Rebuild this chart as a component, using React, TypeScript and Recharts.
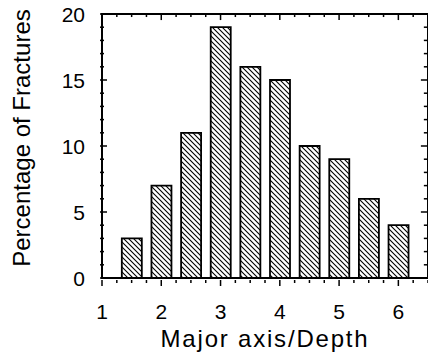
import React from "react";
import { BarChart, Bar, XAxis, YAxis, Label, ReferenceArea, ReferenceLine } from "recharts";

// ─── Data ─────────────────────────────────────────────────────────────────────

const ratios = [1.5, 2, 2.5, 3, 3.5, 4, 4.5, 5, 5.5, 6];
const percents = [3, 7, 11, 19, 16, 15, 10, 9, 6, 4];

const xMajorTicks = [1, 2, 3, 4, 5, 6];
const xTicks = [1, 1.25, 1.5, 1.75, 2, 2.25, 2.5, 2.75, 3, 3.25, 3.5, 3.75, 4, 4.25, 4.5, 4.75, 5, 5.25, 5.5, 5.75, 6, 6.25, 6.5];
const yMajorTicks = [0, 5, 10, 15, 20];
const yTicks = [0, 1, 2, 3, 4, 5, 6, 7, 8, 9, 10, 11, 12, 13, 14, 15, 16, 17, 18, 19, 20];

const data = ratios.map((r, i) => ({ ratio: r, pct: percents[i] }));

const FONT = "'Liberation Sans', Arial, Helvetica, sans-serif";
const INK = "#000";
const noText = () => "";

// ─── Tick renderers (ticks drawn by hand so they can point inward) ────────────

const BottomTick = ({ x, y, payload }: any) => {
  const major = xMajorTicks.includes(payload.value);
  return (
    <g>
      <line x1={x} y1={y} x2={x} y2={y + (major ? 6 : 3)} stroke={INK} strokeWidth={1.5} />
      {major && (
        <text x={x} y={y + 39} textAnchor="middle" fontSize={21} fontFamily={FONT} fill={INK}>
          {payload.value}
        </text>
      )}
    </g>
  );
};

const LeftTick = ({ x, y, payload }: any) => {
  const major = yMajorTicks.includes(payload.value);
  return (
    <g>
      <line x1={x} y1={y} x2={x + (major ? 7 : 4)} y2={y} stroke={INK} strokeWidth={1.5} />
      {major && (
        <text x={x - 15} y={y + 7.5} textAnchor="end" fontSize={21} fontFamily={FONT} fill={INK}>
          {payload.value}
        </text>
      )}
    </g>
  );
};

const YTitle = ({ viewBox }: any) => {
  const cx = 21;
  const cy = viewBox.y + viewBox.height / 2 - 8;
  return (
    <text
      x={cx}
      y={cy}
      transform={`rotate(-90, ${cx}, ${cy})`}
      textAnchor="middle"
      dominantBaseline="central"
      fontSize={24}
      fontFamily={FONT}
      fill={INK}
    >
      Percentage of Fractures
    </text>
  );
};

const XTitle = ({ viewBox }: any) => (
  <text
    x={viewBox.x + viewBox.width / 2}
    y={viewBox.y + 69}
    textAnchor="middle"
    fontSize={24}
    letterSpacing={1.8}
    fontFamily={FONT}
    fill={INK}
  >
    Major axis/Depth
  </text>
);

// ─── Chart ────────────────────────────────────────────────────────────────────

export default function App() {
  const frame = { stroke: INK, strokeWidth: 2 };
  const xMax = xTicks[xTicks.length - 1];
  const yMax = yTicks[yTicks.length - 1];
  return (
    <div style={{ position: "absolute", left: 0, top: 0, width: 428, height: 356, background: "#fff" }}>
      {/* hatch pattern lives in its own svg so it stays out of the chart tree */}
      <svg width={0} height={0} style={{ position: "absolute" }}>
        <defs>
          <pattern id="hatch" width={5} height={5} patternUnits="userSpaceOnUse">
            <rect width={5} height={5} fill="#fff" />
            <path d="M-1,-1 L6,6 M-1,4 L1,6 M4,-1 L6,1" stroke={INK} strokeWidth={1.1} />
          </pattern>
        </defs>
      </svg>

      <BarChart width={428} height={356} data={data} margin={{ top: 14, right: 0, bottom: 77, left: 101 }}>
        <XAxis
          dataKey="ratio"
          type="number"
          domain={[1, 6.5]}
          ticks={xTicks}
          tickFormatter={noText}
          height={1}
          tickSize={0}
          tickLine={false}
          stroke={INK}
          axisLine={frame}
          tick={<BottomTick />}
        >
          <Label content={<XTitle />} />
        </XAxis>
        <YAxis
          type="number"
          domain={[0, 20]}
          ticks={yTicks}
          tickFormatter={noText}
          width={1}
          tickSize={0}
          tickLine={false}
          stroke={INK}
          axisLine={frame}
          tick={<LeftTick />}
        >
          <Label content={<YTitle />} />
        </YAxis>

        <Bar
          dataKey="pct"
          barSize={20}
          fill="url(#hatch)"
          stroke={INK}
          strokeWidth={1.8}
          isAnimationActive={false}
        />

        {/* plot frame */}
        <ReferenceArea x1={1} x2={xMax} y1={0} y2={yMax} fill="#fff" fillOpacity={0} stroke={INK} strokeWidth={2} />

        {/* mirrored inward ticks along the top and right sides */}
        {xTicks.slice(1, -1).map((t) => (
          <ReferenceLine
            key={`top-${t}`}
            segment={[
              { x: t, y: yMax },
              { x: t, y: yMax - (xMajorTicks.includes(t) ? 0.46 : 0.23) },
            ]}
            stroke={INK}
            strokeWidth={1.5}
          />
        ))}
        {yTicks.slice(1, -1).map((t) => (
          <ReferenceLine
            key={`right-${t}`}
            segment={[
              { x: xMax, y: t },
              { x: xMax - (yMajorTicks.includes(t) ? 0.12 : 0.07), y: t },
            ]}
            stroke={INK}
            strokeWidth={1.5}
          />
        ))}
      </BarChart>
    </div>
  );
}
